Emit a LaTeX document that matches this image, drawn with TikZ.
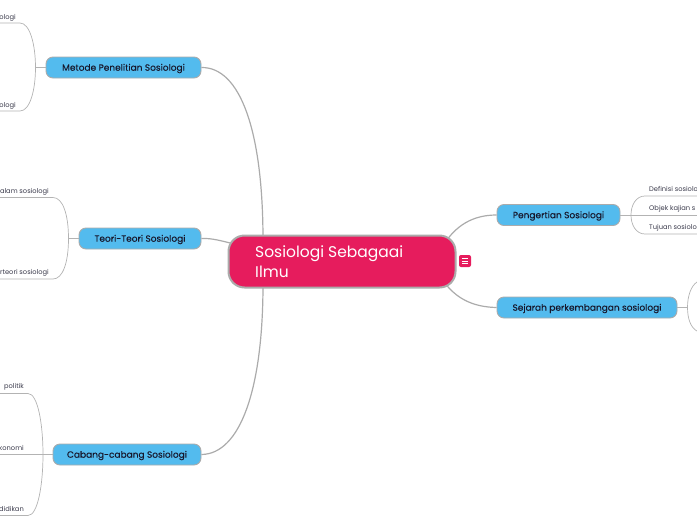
\documentclass[tikz,border=0pt]{standalone}
\usepackage{fontspec}
\setmainfont{Poppins}
\newfontfamily\topicfont[FakeBold=0.15]{Poppins}
\definecolor{pinkmain}{HTML}{E61C5D}
\definecolor{bluetopic}{HTML}{53BBEE}
\definecolor{greyline}{HTML}{ABABAB}
\definecolor{inkdark}{HTML}{17172B}
\tikzset{
  mainnode/.style={draw=greyline, line width=2pt, fill=pinkmain, rounded corners=16pt, minimum width=227pt, minimum height=52pt, inner sep=0pt},
  topicnode/.style={draw=greyline, line width=0.9pt, fill=bluetopic, rounded corners=7pt, minimum height=21pt, inner sep=0pt, text=inkdark, text height=6.4pt, text depth=0pt, font=\topicfont\fontsize{9}{11}\selectfont},
  leafnode/.style={inner sep=0pt, text=inkdark!85, text height=4.8pt, text depth=0pt, font=\fontsize{6.7}{8}\selectfont},
  branch/.style={draw=greyline, line width=1.2pt},
  subbranch/.style={draw=greyline!90, line width=0.7pt}
}
\begin{document}
\begin{tikzpicture}[x=1pt,y=-1pt]
	\useasboundingbox (0,0) rectangle (697,520);
	\clip (0,0) rectangle (697,520);

	%%%%% nodes %%%%%
	\coordinate (centerup) at (263,240);
	\coordinate (centerdown) at (263,284);
	\coordinate (centerleft) at (234,244);
	\coordinate (centerrightup) at (444,244);
	\coordinate (centerrightdown) at (444,282);

	\node[topicnode, minimum width=155pt] (metode) at (123.5,67.5) {Metode Penelitian Sosiologi};
	\node[topicnode, minimum width=122pt] (teori) at (140,238.5) {Teori-Teori Sosiologi};
	\node[topicnode, minimum width=148pt] (cabang) at (127,454.5) {Cabang-cabang Sosiologi};
	\node[topicnode, minimum width=123pt] (pengertian) at (558.5,215) {Pengertian Sosiologi};
	\node[topicnode, minimum width=180pt] (sejarah) at (587,307.5) {Sejarah perkembangan sosiologi};

	%%%%% main branches %%%%%
	\draw[branch] (metode.east) .. controls (240,67) and (263,130) .. (centerup);
	\draw[branch] (cabang.east) .. controls (240,454) and (263,390) .. (centerdown);
	\draw[branch] (teori.east) .. controls (212,238) and (222,241) .. (centerleft);
	\draw[branch] (pengertian.west) .. controls (472,215) and (456,226) .. (centerrightup);
	\draw[branch] (sejarah.west) .. controls (472,307) and (456,298) .. (centerrightdown);

	\node[mainnode] (central) at (342,261.5) {};
	\node[anchor=west, inner sep=0pt, text=white, align=left, font=\fontsize{15.5}{20}\selectfont] (title) at (255,262) {Sosiologi Sebagaai\\Ilmu};

	\node[draw=none, fill=pinkmain, rounded corners=2pt, minimum size=12pt, inner sep=0pt] (notes) at (465,261) {};
	\foreach \y in {-2.6,0,2.6}
		\draw[white, line width=0.7pt] ([shift={(-3.2,\y)}]notes.center) -- ([shift={(3.2,\y)}]notes.center);

	%%%%% metode %%%%%
	\node[leafnode, anchor=east] (metodetop) at (16,17) {ologi};
	\node[leafnode, anchor=east] (metodebottom) at (16,105) {ologi};
	\coordinate (metodejoin) at (35.5,67.5);
	\coordinate (metodeoutup) at (0,23);
	\coordinate (metodeoutdown) at (0,111);
	\draw[subbranch] (metode.west) -- (metodejoin);
	\draw[subbranch] (metodeoutup) -- (20,23) .. controls (30,23) and (35.5,45) .. (metodejoin) .. controls (35.5,90) and (30,111) .. (20,111) -- (metodeoutdown);

	%%%%% teori %%%%%
	\node[leafnode, anchor=east] (teoritop) at (49,191) {alam sosiologi};
	\node[leafnode, anchor=east] (teoribottom) at (49,272) {rteori sosiologi};
	\coordinate (teorijoin) at (68.5,238.5);
	\coordinate (teorioutup) at (0,197.5);
	\coordinate (teorioutdown) at (0,279);
	\draw[subbranch] (teori.west) -- (teorijoin);
	\draw[subbranch] (teorioutup) -- (53,197.5) .. controls (63,197.5) and (68.5,215) .. (teorijoin) .. controls (68.5,262) and (63,279) .. (53,279) -- (teorioutdown);

	%%%%% cabang %%%%%
	\node[leafnode, anchor=east] (cabangtop) at (24,386.5) {politik};
	\node[leafnode, anchor=east] (cabangmid) at (24,448) {konomi};
	\node[leafnode, anchor=east] (cabangbottom) at (24,509) {didikan};
	\coordinate (cabangjoin) at (43,454.5);
	\coordinate (cabangoutup) at (0,393.5);
	\coordinate (cabangoutmid) at (0,454.5);
	\coordinate (cabangoutdown) at (0,515.5);
	\draw[subbranch] (cabang.west) -- (cabangoutmid);
	\draw[subbranch] (cabangoutup) -- (28,393.5) .. controls (38,393.5) and (43,425) .. (cabangjoin) .. controls (43,484) and (38,515.5) .. (28,515.5) -- (cabangoutdown);

	%%%%% pengertian %%%%%
	\node[leafnode, anchor=west] (pengertiantop) at (649,189) {Definisi sosiolo};
	\node[leafnode, anchor=west] (pengertianmid) at (649,208) {Objek kajian s};
	\node[leafnode, anchor=west] (pengertianbottom) at (649,227) {Tujuan sosiolo};
	\coordinate (pengertianjoin) at (631,215);
	\coordinate (pengertianoutup) at (697,196);
	\coordinate (pengertianoutmid) at (697,215);
	\coordinate (pengertianoutdown) at (697,234);
	\draw[subbranch] (pengertian.east) -- (pengertianoutmid);
	\draw[subbranch] (pengertianoutup) -- (645,196) .. controls (636,196) and (631,205) .. (pengertianjoin) .. controls (631,225) and (636,234) .. (645,234) -- (pengertianoutdown);

	%%%%% sejarah %%%%%
	\coordinate (sejarahjoin) at (687.5,307.5);
	\coordinate (sejarahoutup) at (697,282);
	\coordinate (sejarahoutdown) at (697,331);
	\draw[subbranch] (sejarah.east) -- (sejarahjoin);
	\draw[subbranch] (sejarahoutup) .. controls (691,286) and (687.5,296) .. (sejarahjoin) .. controls (687.5,319) and (691,328) .. (sejarahoutdown);
\end{tikzpicture}
\end{document}
